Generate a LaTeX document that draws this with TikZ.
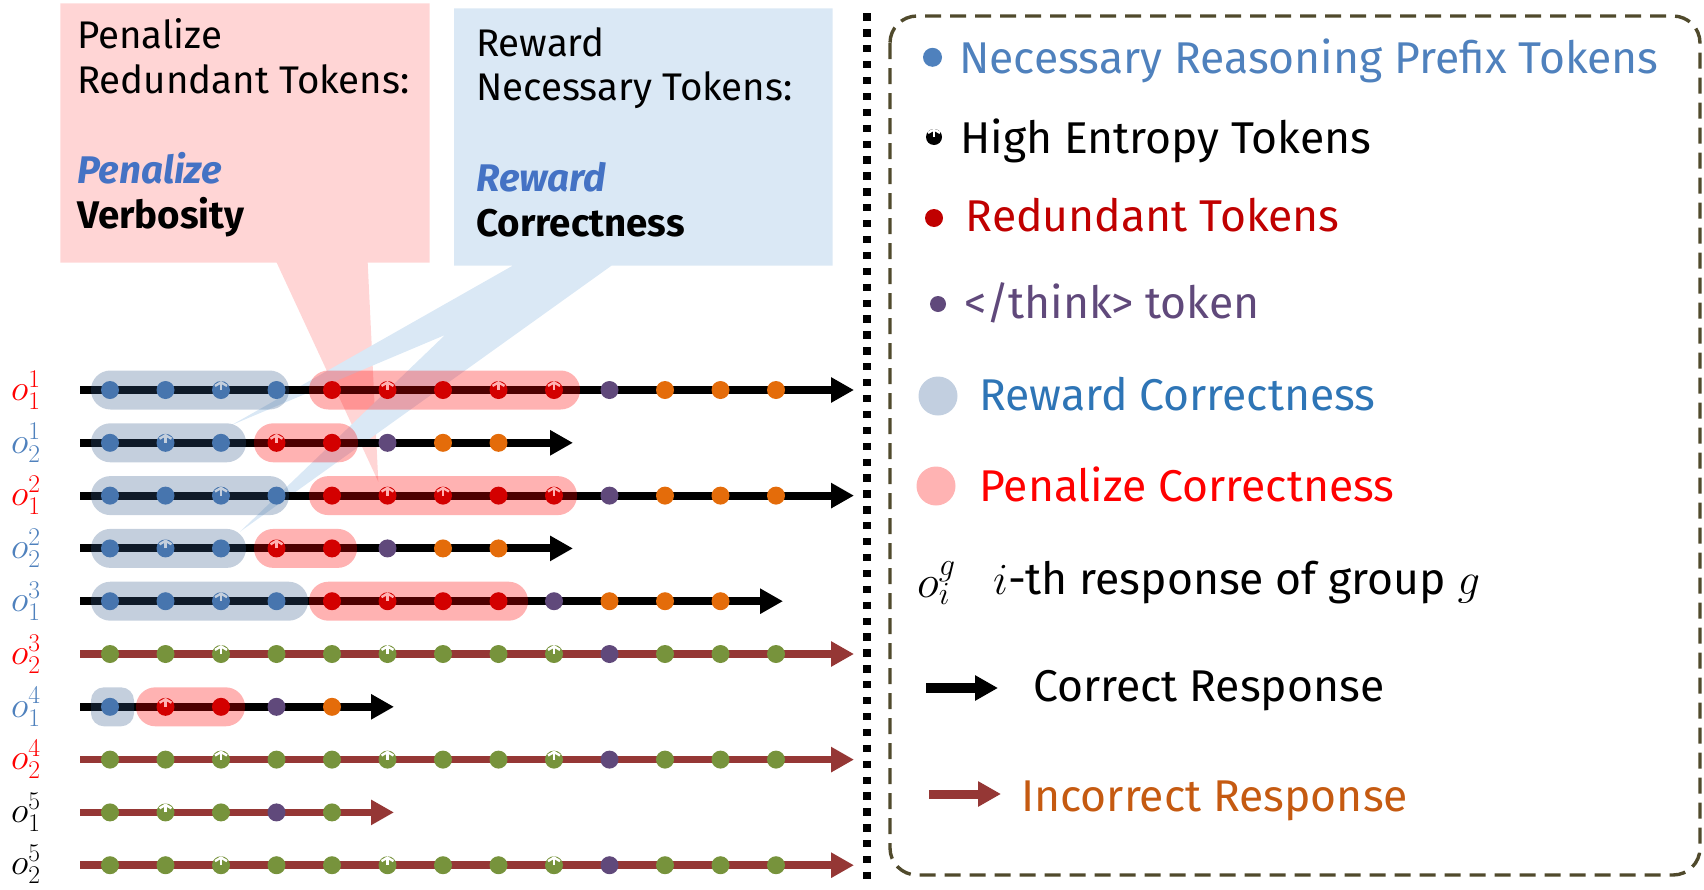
\RequirePackage{fix-cm}
\documentclass[tikz,border=0pt]{standalone}
\usepackage[no-math]{fontspec}
\setmainfont{Fira Sans}
\usetikzlibrary{arrows.meta}

\definecolor{necblue}{RGB}{79,129,189}
\definecolor{redtok}{RGB}{192,0,0}
\definecolor{thinkpur}{RGB}{96,73,123}
\definecolor{ansorange}{RGB}{228,108,10}
\definecolor{wronggreen}{RGB}{119,147,60}
\definecolor{wrongline}{RGB}{149,55,53}
\definecolor{pillblue}{RGB}{52,90,138}
\definecolor{callpink}{RGB}{255,213,213}
\definecolor{callblue}{RGB}{218,232,245}
\definecolor{rewblue}{RGB}{46,117,182}
\definecolor{boldblue}{RGB}{68,114,196}
\definecolor{incorange}{RGB}{197,90,17}
\definecolor{legline}{RGB}{80,74,44}
\definecolor{legcirc}{RGB}{194,207,224}
\definecolor{legpink}{RGB}{255,179,179}

\newcommand\callfont{\fontsize{38.5}{45}\selectfont}
\newcommand\legfont{\fontsize{44.5}{52}\selectfont}
\newcommand\labfont{\fontsize{36.5}{40}\selectfont}

\tikzset{
  tok/.style={circle, fill=#1, inner sep=0pt, minimum size=18pt},
  hient/.style={tok=#1, path picture={
    \draw[white, line width=2.4pt, -{Straight Barb[length=3.5pt 0 0, width=12pt 0 0]}]
      (path picture bounding box.center) -- ([yshift=9pt]path picture bounding box.center);}},
  tokN/.style={tok=necblue}, tokNH/.style={hient=necblue},
  tokR/.style={tok=redtok}, tokRH/.style={hient=redtok},
  tokT/.style={tok=thinkpur}, tokA/.style={tok=ansorange},
  tokG/.style={tok=wronggreen}, tokGH/.style={hient=wronggreen},
  correct/.style={line width=8pt, -{Triangle[length=23pt 0 0, width=24pt 0 0]}},
  wrong/.style={correct, draw=wrongline, line width=7.5pt},
  rewpill/.style={fill=pillblue, fill opacity=0.29, rounded corners=19.4pt},
  penpill/.style={fill=red, fill opacity=0.3, rounded corners=19.4pt},
  lab/.style={anchor=west, inner sep=0pt, font=\labfont},
  calltxt/.style={anchor=base west, inner sep=0pt, font=\callfont},
  legtxt/.style={anchor=base west, inner sep=0pt, font=\legfont},
  sepline/.style={line width=7.3pt, dash pattern=on 7.3pt off 8.6pt},
  legbox/.style={draw=legline, line width=3.4pt, dash pattern=on 16pt off 9pt, rounded corners=27pt}
}

\begin{document}
\begin{tikzpicture}[x=1pt, y=-1pt]
\useasboundingbox (0,0) rectangle (1704,889);
% Callouts
\fill[callpink] (60.3,3.3) -- (429.5,3.3) -- (429.5,262.7) -- (367.7,262.7) -- (378.3,481.7)
  -- (276.7,262.7) -- (60.3,262.7) -- cycle;
\fill[callblue] (454,8.3) -- (832.7,8.3) -- (832.7,265.5) -- (611.7,265.5) -- (240,531.7)
  -- (445,335) -- (231.7,425) -- (513,265.5) -- (454,265.5) -- cycle;
\node[calltxt] (pen1) at (76.8,48.3) {Penalize};
\node[calltxt] (pen2) at (76.8,93.3) {Redundant Tokens:};
\node[calltxt] (pen3) at (76.8,183.3) {\textbf{\textit{\color{boldblue}Penalize}}};
\node[calltxt] (pen4) at (76.8,228.3) {\textbf{Verbosity}};
\node[calltxt] (rew1) at (476,56.7) {Reward};
\node[calltxt] (rew2) at (476,100) {Necessary Tokens:};
\node[calltxt] (rew3) at (476,191.7) {\textbf{\textit{\color{boldblue}Reward}}};
\node[calltxt] (rew4) at (476,236) {\textbf{Correctness}};
% o_1^1
\coordinate (s1) at (80,390);
\coordinate (e1) at (854,390);
\draw[correct] (s1) -- (e1);
\foreach \s [count=\i] in {tokN,tokN,tokNH,tokN,tokR,tokRH,tokR,tokRH,tokRH,tokT,tokA,tokA,tokA}
  \node[style=\s] (t1-\i) at ({110+55.5*(\i-1)},390) {};
\fill[rewpill] (91,370.5) rectangle (289,409.5);
\fill[penpill] (309,370.5) rectangle (580,409.5);
\node[lab, text=red] (o1) at (11,390) {$o_1^1$};
% o_2^1
\coordinate (s2) at (80,442.8);
\coordinate (e2) at (573,442.8);
\draw[correct] (s2) -- (e2);
\foreach \s [count=\i] in {tokN,tokNH,tokN,tokRH,tokR,tokT,tokA,tokA}
  \node[style=\s] (t2-\i) at ({110+55.5*(\i-1)},442.8) {};
\fill[rewpill] (91,423.3) rectangle (246,462.3);
\fill[penpill] (254,423.3) rectangle (358,462.3);
\node[lab, text=necblue] (o2) at (11,442.8) {$o_2^1$};
% o_1^2
\coordinate (s3) at (80,495.6);
\coordinate (e3) at (854,495.6);
\draw[correct] (s3) -- (e3);
\foreach \s [count=\i] in {tokN,tokN,tokNH,tokN,tokR,tokRH,tokRH,tokR,tokRH,tokT,tokA,tokA,tokA}
  \node[style=\s] (t3-\i) at ({110+55.5*(\i-1)},495.6) {};
\fill[rewpill] (91,476.1) rectangle (289,515.1);
\fill[penpill] (309,476.1) rectangle (577,515.1);
\node[lab, text=red] (o3) at (11,495.6) {$o_1^2$};
% o_2^2
\coordinate (s4) at (80,548.4);
\coordinate (e4) at (573,548.4);
\draw[correct] (s4) -- (e4);
\foreach \s [count=\i] in {tokN,tokNH,tokN,tokRH,tokR,tokT,tokA,tokA}
  \node[style=\s] (t4-\i) at ({110+55.5*(\i-1)},548.4) {};
\fill[rewpill] (91,528.9) rectangle (246,567.9);
\fill[penpill] (254,528.9) rectangle (357,567.9);
\node[lab, text=necblue] (o4) at (11,548.4) {$o_2^2$};
% o_1^3
\coordinate (s5) at (80,601.2);
\coordinate (e5) at (783,601.2);
\draw[correct] (s5) -- (e5);
\foreach \s [count=\i] in {tokN,tokN,tokNH,tokN,tokR,tokRH,tokR,tokR,tokT,tokA,tokA,tokA}
  \node[style=\s] (t5-\i) at ({110+55.5*(\i-1)},601.2) {};
\fill[rewpill] (91,581.7) rectangle (308,620.7);
\fill[penpill] (309,581.7) rectangle (528,620.7);
\node[lab, text=necblue] (o5) at (11,601.2) {$o_1^3$};
% o_2^3
\coordinate (s6) at (80,654);
\coordinate (e6) at (854,654);
\draw[wrong] (s6) -- (e6);
\foreach \s [count=\i] in {tokG,tokG,tokGH,tokG,tokG,tokGH,tokG,tokG,tokGH,tokT,tokG,tokG,tokG}
  \node[style=\s] (t6-\i) at ({110+55.5*(\i-1)},654) {};
\node[lab, text=red] (o6) at (11,654) {$o_2^3$};
% o_1^4
\coordinate (s7) at (80,706.8);
\coordinate (e7) at (394,706.8);
\draw[correct] (s7) -- (e7);
\foreach \s [count=\i] in {tokN,tokRH,tokR,tokT,tokA}
  \node[style=\s] (t7-\i) at ({110+55.5*(\i-1)},706.8) {};
\fill[rewpill, rounded corners=13pt] (91,687.3) rectangle (134,726.3);
\fill[penpill] (136,687.3) rectangle (245,726.3);
\node[lab, text=necblue] (o7) at (11,706.8) {$o_1^4$};
% o_2^4
\coordinate (s8) at (80,759.6);
\coordinate (e8) at (854,759.6);
\draw[wrong] (s8) -- (e8);
\foreach \s [count=\i] in {tokG,tokG,tokGH,tokG,tokG,tokGH,tokG,tokG,tokGH,tokT,tokG,tokG,tokG}
  \node[style=\s] (t8-\i) at ({110+55.5*(\i-1)},759.6) {};
\node[lab, text=red] (o8) at (11,759.6) {$o_2^4$};
% o_1^5
\coordinate (s9) at (80,812.4);
\coordinate (e9) at (394,812.4);
\draw[wrong] (s9) -- (e9);
\foreach \s [count=\i] in {tokG,tokGH,tokG,tokT,tokG}
  \node[style=\s] (t9-\i) at ({110+55.5*(\i-1)},812.4) {};
\node[lab] (o9) at (11,812.4) {$o_1^5$};
% o_2^5
\coordinate (s10) at (80,865.2);
\coordinate (e10) at (854,865.2);
\draw[wrong] (s10) -- (e10);
\foreach \s [count=\i] in {tokG,tokG,tokGH,tokG,tokG,tokGH,tokG,tokG,tokGH,tokT,tokG,tokG,tokG}
  \node[style=\s] (t10-\i) at ({110+55.5*(\i-1)},865.2) {};
\node[lab] (o10) at (11,864) {$o_2^5$};
% Separator
\coordinate (sepT) at (867,13.3);
\coordinate (sepB) at (867,886);
\draw[sepline] (sepT) -- (sepB);
% Legend
\coordinate (boxNW) at (890,16);
\coordinate (boxSE) at (1700,875);
\draw[legbox] (boxNW) rectangle (boxSE);
\node[tok=necblue, minimum size=19pt] (lgN) at (932.5,57.3) {};
\node[legtxt, text=necblue] (lgNt) at (959,73.3) {Necessary Reasoning Prefix Tokens};
\node[hient=black, minimum size=16pt] (lgH) at (934,137) {};
\node[legtxt] (lgHt) at (960,153.3) {High Entropy Tokens};
\node[tok=redtok] (lgR) at (934,218) {};
\node[legtxt, text=redtok] (lgRt) at (965.6,231.7) {Redundant Tokens};
\node[tok=thinkpur, minimum size=16pt] (lgT) at (938,304) {};
\node[legtxt, text=thinkpur] (lgTt) at (964,318.3) {</think> token};
\node[tok=legcirc, minimum size=39pt] (lgRew) at (938,396) {};
\node[legtxt, text=rewblue] (lgRewt) at (979,410) {Reward Correctness};
\node[tok=legpink, minimum size=39pt] (lgPen) at (936,486) {};
\node[legtxt, text=red] (lgPent) at (979,501.7) {Penalize Correctness};
\node[anchor=west, inner sep=0pt, font=\fontsize{46}{50}\selectfont] (lgO) at (917,583) {$o_i^g$};
\node[legtxt] (lgOt) at (993,594) {$i$-th response of group $g$};
\coordinate (lgC1) at (926,688);
\coordinate (lgC2) at (998,688);
\draw[correct, line width=10pt] (lgC1) -- (lgC2);
\node[legtxt] (lgCt) at (1033,701.7) {Correct Response};
\coordinate (lgW1) at (929,794);
\coordinate (lgW2) at (1001,794);
\draw[wrong, line width=9pt] (lgW1) -- (lgW2);
\node[legtxt, text=incorange] (lgWt) at (1021,811.7) {Incorrect Response};
\end{tikzpicture}
\end{document}
